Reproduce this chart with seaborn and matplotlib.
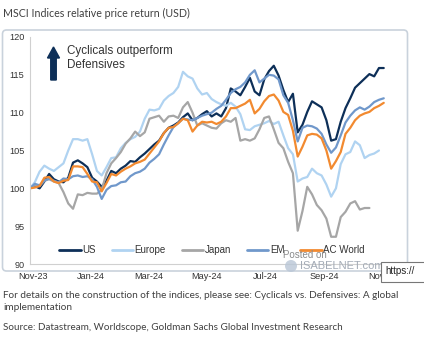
import numpy as np
import pandas as pd
import matplotlib
matplotlib.use("Agg")
import matplotlib.pyplot as plt
import matplotlib.dates as mdates
from matplotlib.patches import FancyBboxPatch, FancyArrow, Rectangle, Circle
from matplotlib.transforms import IdentityTransform
import seaborn as sns

# ---------------- data ----------------
dates = pd.date_range("2023-10-29", periods=75, freq="5D")

us = [100.0, 100.3, 100.0, 100.9, 101.9, 101.2, 100.9, 100.8, 101.4, 103.4,
      103.7, 103.3, 102.8, 101.4, 100.9, 100.2, 101.0, 102.3, 102.0, 102.6,
      103.0, 103.6, 103.5, 104.1, 104.6, 105.2, 105.8, 106.3, 107.3, 108.0,
      108.3, 108.7, 109.4, 109.9, 109.0, 109.3, 109.8, 110.2, 109.5, 109.9,
      109.5, 110.6, 113.2, 112.8, 112.3, 113.4, 114.6, 112.8, 112.3, 114.4,
      115.5, 116.2, 114.9, 113.0, 111.4, 112.5, 107.4, 108.4, 110.1, 111.5,
      111.1, 110.7, 109.0, 106.3, 106.5, 108.8, 110.6, 111.9, 113.3, 113.9,
      114.5, 115.1, 114.8, 115.9, 115.9]

europe = [100.0, 100.8, 102.2, 103.0, 102.6, 102.3, 102.8, 103.3, 105.0, 106.5,
          106.5, 106.3, 106.5, 104.5, 102.3, 101.7, 102.8, 104.0, 104.1, 105.3,
          106.0, 106.5, 106.8, 107.5, 109.2, 110.4, 110.3, 110.5, 111.6, 112.2,
          112.6, 113.4, 115.4, 114.8, 114.5, 113.2, 112.4, 112.6, 111.8, 111.4,
          111.1, 110.9, 111.3, 110.8, 109.8, 107.8, 107.7, 108.2, 108.4, 108.6,
          108.9, 108.5, 108.8, 107.0, 105.3, 104.5, 100.9, 101.3, 101.5, 102.6,
          102.0, 101.7, 100.5, 98.9, 100.0, 103.2, 104.5, 104.8, 106.2, 105.7,
          104.0, 104.4, 104.6, 105.0, np.nan]

japan = [100.0, 100.4, 100.3, 101.0, 101.2, 100.9, 100.7, 99.5, 98.0, 97.3,
         99.2, 99.1, 99.4, 99.3, 99.3, 99.8, 102.0, 103.3, 104.0, 104.8,
         105.9, 106.6, 107.5, 106.9, 107.4, 109.2, 109.4, 109.6, 108.8, 109.5,
         109.6, 109.3, 110.7, 111.4, 110.0, 108.3, 108.6, 108.3, 108.0, 107.9,
         108.6, 109.0, 108.8, 109.3, 106.3, 106.5, 106.3, 106.6, 107.8, 109.3,
         109.5, 107.8, 106.0, 105.3, 103.5, 102.0, 94.4, 97.0, 100.2, 99.2,
         97.8, 97.1, 96.0, 93.6, 93.6, 96.2, 96.9, 98.0, 98.3, 97.2,
         97.4, 97.4, np.nan, np.nan, np.nan]

em = [100.0, 100.6, 100.4, 101.0, 101.3, 101.0, 100.8, 101.3, 101.2, 101.6,
      101.7, 101.5, 101.6, 101.2, 100.2, 98.6, 99.8, 100.3, 100.4, 100.8,
      100.9, 101.6, 102.0, 102.2, 102.6, 103.4, 103.9, 104.5, 105.8, 107.0,
      108.1, 108.6, 109.2, 109.1, 109.0, 109.3, 109.6, 109.8, 110.0, 110.5,
      110.9, 111.7, 112.6, 113.1, 113.4, 114.0, 115.0, 115.6, 114.0, 114.5,
      115.0, 114.9, 114.4, 112.3, 111.3, 109.0, 106.2, 108.0, 108.3, 108.2,
      107.9, 107.2, 105.8, 104.7, 105.4, 107.0, 108.7, 109.6, 110.3, 110.7,
      110.4, 110.8, 111.4, 111.7, 111.9]

ac_world = [100.0, 100.1, 100.3, 101.4, 101.5, 100.9, 100.7, 101.0, 101.1, 102.9,
            102.9, 102.8, 101.9, 100.9, 100.8, 99.6, 100.7, 101.9, 101.7, 102.2,
            102.6, 102.9, 103.3, 103.5, 103.8, 104.6, 105.4, 106.2, 107.3, 108.0,
            108.1, 108.6, 109.2, 109.0, 107.5, 108.3, 108.8, 108.7, 108.8, 108.5,
            108.8, 109.5, 110.6, 110.6, 110.9, 111.2, 111.7, 109.9, 110.5, 111.5,
            112.2, 112.4, 111.6, 110.1, 109.7, 107.6, 104.2, 105.5, 107.0, 107.2,
            107.1, 106.6, 105.0, 102.6, 103.6, 104.8, 107.2, 108.0, 109.0, 109.6,
            109.9, 110.1, 110.6, 110.9, 111.3]

series_names = ["US", "Europe", "Japan", "EM", "AC World"]
series_values = [us, europe, japan, em, ac_world]
series_colors = ["#0d2f58", "#b0d3f1", "#a6a6a6", "#7098cb", "#f28a30"]

y_ticks = [90, 95, 100, 105, 110, 115, 120]
x_tick_dates = ["2023-11-01", "2024-01-01", "2024-03-01", "2024-05-01",
                "2024-07-01", "2024-09-01", "2024-11-01"]

title_text = "MSCI Indices relative price return (USD)"
note_line1 = "For details on the construction of the indices, please see: Cyclicals vs. Defensives: A global"
note_line2 = "implementation"
source_text = "Source: Datastream, Worldscope, Goldman Sachs Global Investment Research"
annot_text = "Cyclicals outperform\nDefensives"

# ---------------- build long table ----------------
frames = []
for name, vals in zip(series_names, series_values):
    frames.append(pd.DataFrame({"date": dates, "value": vals, "series": name}))
df = pd.concat(frames, ignore_index=True).dropna()

# ---------------- figure ----------------
sns.set_style("white")
plt.rcParams["font.family"] = ["Liberation Sans", "DejaVu Sans"]
narrow = ["Lato", "Liberation Sans", "DejaVu Sans"]

W, H = 424, 339
fig = plt.figure(figsize=(W / 100, H / 100), dpi=100)
fig.patch.set_facecolor("white")
renderer = fig.canvas.get_renderer()


def fx(x):
    return x / W


def fy(y):
    return 1 - y / H


def fitted_text(x, y, s, target_w, size, **kw):
    t = fig.text(fx(x), fy(y), s, fontsize=size, **kw)
    w = t.get_window_extent(renderer=renderer).width
    if w > 0:
        t.set_fontsize(size * target_w / w)
    return t


# rounded frame around the chart
frame = FancyBboxPatch((2.5, H - 271), 405, 241,
                       boxstyle="round,pad=0,rounding_size=4",
                       transform=IdentityTransform(), facecolor="white",
                       edgecolor="#c9d2dc", linewidth=1.2, zorder=0)
fig.add_artist(frame)

ax = fig.add_axes([fx(30), fy(264), (400 - 30) / W, (264 - 37) / H])
ax.set_facecolor("none")

palette = dict(zip(series_names, series_colors))
sns.lineplot(data=df, x="date", y="value", hue="series", hue_order=series_names,
             palette=palette, linewidth=1.6, ax=ax, legend=True)

ax.set_ylim(90, 120)
ax.set_xlim(pd.Timestamp("2023-10-29"), pd.Timestamp("2024-11-19"))
ax.set_yticks(y_ticks)
ax.set_xticks(pd.to_datetime(x_tick_dates))
ax.xaxis.set_major_formatter(mdates.DateFormatter("%b-%y"))
ax.set_xlabel("")
ax.set_ylabel("")
for s in ["top", "right"]:
    ax.spines[s].set_visible(False)
for s in ["left", "bottom"]:
    ax.spines[s].set_color("#d0d0d0")
    ax.spines[s].set_linewidth(0.8)
ax.tick_params(axis="both", which="both", length=2, width=0.6, color="#c8c8c8",
               labelsize=6.6, labelcolor="#333333", pad=2)
ax.tick_params(axis="x", pad=4)

handles, labels = ax.get_legend_handles_labels()
leg = ax.legend(handles, labels, ncol=5, loc="center",
                bbox_to_anchor=((212 - 30) / 370, (264 - 250) / 227),
                frameon=False, fontsize=7, handlelength=2.2, handletextpad=0.15,
                columnspacing=1.65, borderpad=0.2)
for line in leg.get_lines():
    line.set_linewidth(2.0)
for t in leg.get_texts():
    t.set_color("#333333")

# arrow + annotation
arrow = FancyArrow(53.5, H - 80, 0, 33, width=5.5, head_width=12, head_length=11,
                   length_includes_head=True, transform=IdentityTransform(),
                   color="#0d2f58", zorder=5)
fig.add_artist(arrow)
fig.text(fx(67), fy(58), annot_text, fontsize=8.4, color="#333333",
         va="center", ha="left", linespacing=1.15)

# title and notes (sized to the reference's text widths)
fitted_text(3, 13, title_text, 185, 8.2, color="#404040", family=narrow,
            va="center", ha="left")
t1 = fitted_text(3, 296, note_line1, 394, 8.2, color="#404040", family=narrow,
                 va="center", ha="left")
fig.text(fx(3), fy(307.5), note_line2, fontsize=t1.get_fontsize(), color="#404040",
         family=narrow, va="center", ha="left")
fitted_text(3, 328, source_text, 339, 8.2, color="#404040", family=narrow,
            va="center", ha="left")

# watermark overlays
fig.text(fx(283), fy(255), "Posted on", fontsize=7, color="#8a8a8a",
         va="center", ha="left", zorder=6)
fig.add_artist(Circle((291, H - 266), 6, transform=IdentityTransform(),
                      facecolor="#b9c6d6", edgecolor="none", alpha=0.8, zorder=6))
fig.text(fx(300), fy(266), "ISABELNET.com", fontsize=8, color="#a3abb6",
         va="center", ha="left", zorder=6)
fig.add_artist(Rectangle((381, H - 282), 45, 20, transform=IdentityTransform(),
                         facecolor="white", edgecolor="#777777", linewidth=0.8,
                         zorder=7))
fig.text(fx(385), fy(271.5), "https://", fontsize=7, color="#222222",
         va="center", ha="left", zorder=8)

fig.savefig("out.png", dpi=100)
